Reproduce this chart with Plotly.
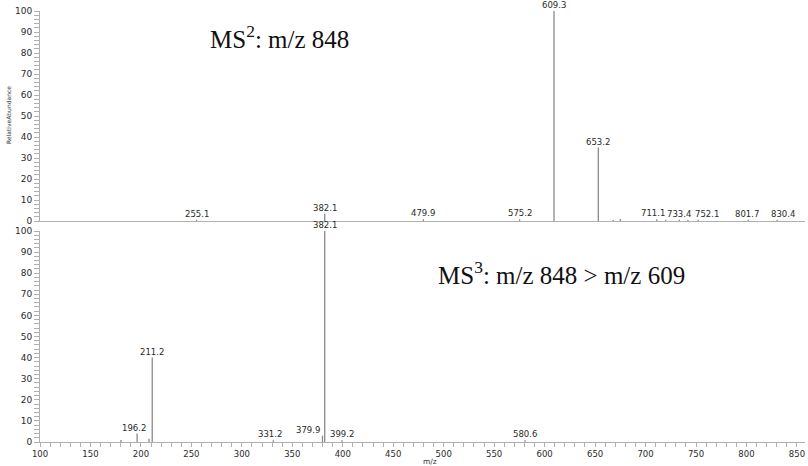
import plotly.graph_objects as go
from plotly.subplots import make_subplots

# MS2 spectrum (m/z 848)
ms2_mz = [255.1, 382.1, 479.9, 575.2, 609.3, 653.2, 668.0, 675.0, 711.1, 720.0, 733.4, 742.0, 752.1, 801.7, 830.4]
ms2_int = [0.6, 3.5, 0.8, 0.8, 100, 35, 0.5, 1.0, 0.8, 0.6, 0.6, 0.5, 0.6, 0.6, 0.6]
ms2_labels = ["255.1", "382.1", "479.9", "575.2", "609.3", "653.2", "", "", "711.1", "", "733.4", "", "752.1", "801.7", "830.4"]

# MS3 spectrum (m/z 848 > m/z 609)
ms3_mz = [180.2, 196.2, 208.0, 211.2, 331.2, 379.9, 382.1, 399.2, 580.6]
ms3_int = [1.0, 4.0, 1.5, 40, 0.8, 3.0, 100, 0.8, 0.8]
ms3_labels = ["", "196.2", "", "211.2", "331.2", "379.9", "382.1", "399.2", "580.6"]

x_ticks = list(range(100, 851, 50))
y_ticks = list(range(0, 101, 10))

fig = make_subplots(rows=2, cols=1, shared_xaxes=False, vertical_spacing=0.0)

def sticks(mz, inten):
    xs, ys = [], []
    for m, h in zip(mz, inten):
        xs += [m, m, None]
        ys += [0, h, None]
    return xs, ys

line_col = "#8a8a8a"
x2, y2 = sticks(ms2_mz, ms2_int)
fig.add_trace(go.Scatter(x=x2, y=y2, mode="lines", line=dict(color=line_col, width=1.3),
                         hoverinfo="skip", showlegend=False), row=1, col=1)
x3, y3 = sticks(ms3_mz, ms3_int)
fig.add_trace(go.Scatter(x=x3, y=y3, mode="lines", line=dict(color=line_col, width=1.3),
                         hoverinfo="skip", showlegend=False), row=2, col=1)

lab_font = dict(family="DejaVu Sans, Arial, sans-serif", size=8.5, color="#2a2a2a")
# small horizontal nudges so crowded labels do not collide (as in the original)
ms2_shift = {"711.1": -4, "752.1": 9, "801.7": -1, "830.4": 6}
ms3_shift = {"196.2": -3, "379.9": -14, "331.2": -3}
annos = []
for m, h, t in zip(ms2_mz, ms2_int, ms2_labels):
    if t:
        annos.append(dict(x=m, y=h, xref="x", yref="y", text=t, showarrow=False,
                          yanchor="bottom", xanchor="center", font=lab_font,
                          xshift=ms2_shift.get(t, 0), yshift=-1))
for m, h, t in zip(ms3_mz, ms3_int, ms3_labels):
    if t:
        annos.append(dict(x=m, y=h, xref="x2", yref="y2", text=t, showarrow=False,
                          yanchor="bottom", xanchor="center", font=lab_font,
                          xshift=ms3_shift.get(t, 0), yshift=-1))

title_font = dict(family="Liberation Serif, Times New Roman, serif", size=25, color="#111111")
annos.append(dict(x=337, y=87.5, xref="x", yref="y", text="MS<sup>2</sup>: m/z 848",
                  showarrow=False, font=title_font, xanchor="center", yanchor="middle"))
annos.append(dict(x=617, y=80, xref="x2", yref="y2", text="MS<sup>3</sup>: m/z 848 &gt; m/z 609",
                  showarrow=False, font=title_font, xanchor="center", yanchor="middle"))
annos.append(dict(x=-32/765, y=(466 - 24 - 115) / 431, xref="paper", yref="paper",
                  text="RelativeAbundance", textangle=-90, showarrow=False,
                  font=dict(family="DejaVu Sans, Arial, sans-serif", size=6, color="#333333"),
                  xanchor="center", yanchor="middle"))
annos.append(dict(x=(430 - 40) / 765, y=-19 / 431, xref="paper", yref="paper", text="m/z",
                  showarrow=False, font=dict(family="DejaVu Sans, Arial, sans-serif", size=7.5, color="#333333"),
                  xanchor="center", yanchor="middle"))

tick_font = dict(family="DejaVu Sans, Arial, sans-serif", size=9, color="#2a2a2a")
xtick_font = dict(family="DejaVu Sans, Arial, sans-serif", size=8.5, color="#2a2a2a")
axis_col = "#b0b0b0"
xrange_ = [100, 858]

fig.update_xaxes(range=xrange_, showgrid=False, zeroline=False, showline=True, linecolor=axis_col,
                 linewidth=1, showticklabels=False, ticks="", automargin=False, row=1, col=1)
fig.update_xaxes(range=xrange_, showgrid=False, zeroline=False, showline=True, linecolor=axis_col,
                 linewidth=1, tickmode="array", tickvals=x_ticks, ticktext=[str(v) for v in x_ticks],
                 ticks="outside", ticklen=4, tickcolor=axis_col, tickfont=xtick_font, automargin=False,
                 minor=dict(dtick=10, ticks="outside", ticklen=4, tickcolor=axis_col), row=2, col=1)
for r in (1, 2):
    fig.update_yaxes(range=[0, 100], showgrid=False, zeroline=False, showline=True, linecolor=axis_col,
                     linewidth=1, tickmode="array", tickvals=y_ticks, ticktext=[str(v) for v in y_ticks],
                     ticks="outside", ticklen=5, tickcolor=axis_col, tickfont=tick_font, automargin=False,
                     minor=dict(dtick=2, ticks="outside", ticklen=5, tickcolor=axis_col), row=r, col=1)

fig.update_layout(
    width=808, height=466,
    margin=dict(l=40, r=3, t=11, b=24),
    paper_bgcolor="white", plot_bgcolor="white",
    annotations=annos,
    showlegend=False,
)
fig.layout.yaxis.domain = [(442 - 221) / 431, 1.0]
fig.layout.yaxis2.domain = [0.0, 211 / 431]

fig.write_html("out.html", config={"displayModeBar": False},
               post_script="document.body.style.margin='0';document.body.style.padding='0';")
